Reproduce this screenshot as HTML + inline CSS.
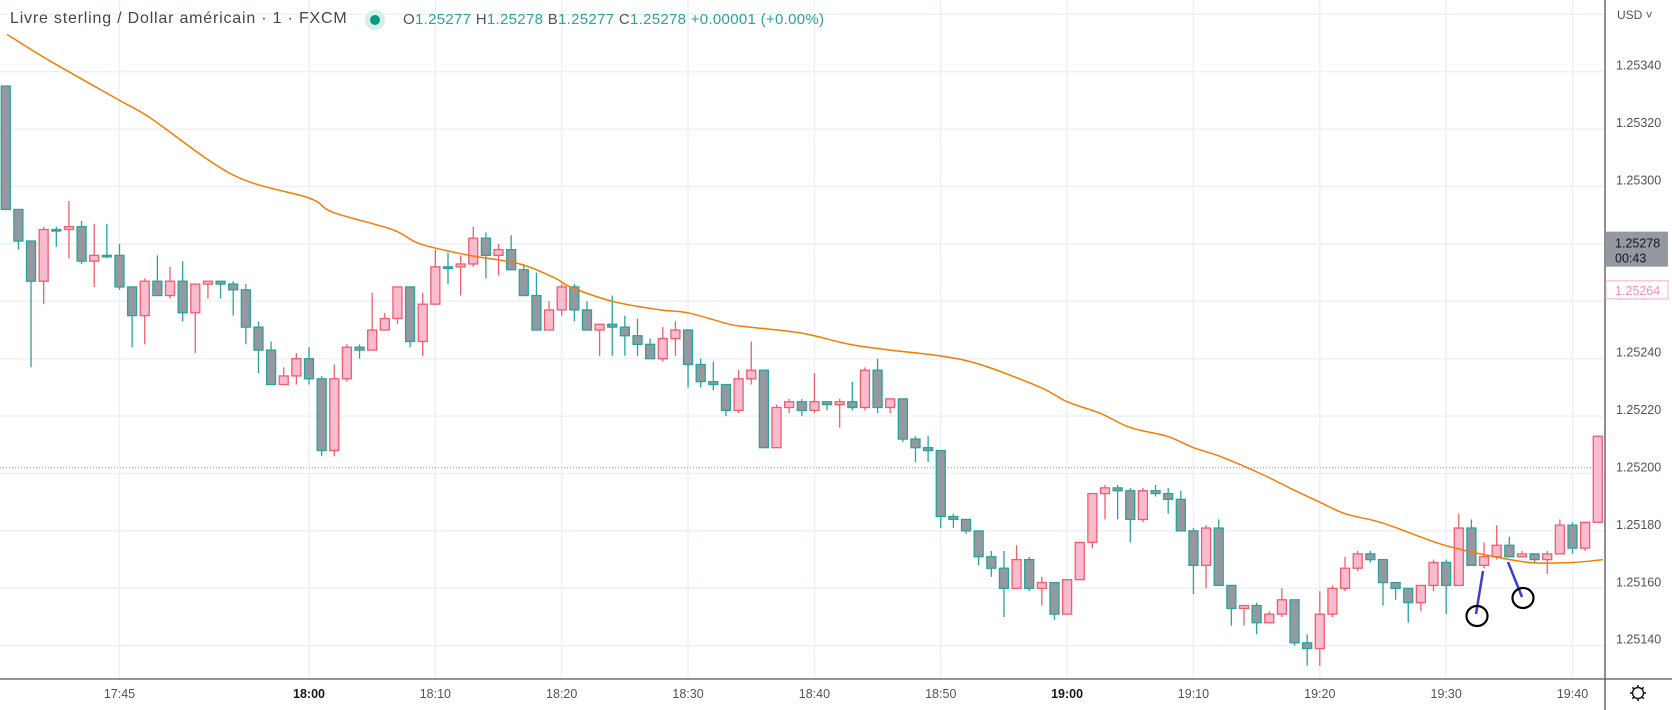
<!DOCTYPE html>
<html><head><meta charset="utf-8">
<style>
html,body{margin:0;padding:0;background:#fff;}
body{width:1672px;height:710px;overflow:hidden;position:relative;font-family:"Liberation Sans",sans-serif;}
.hd{position:absolute;white-space:nowrap;}
.v{color:#26a69a}
.l{color:#50535e}
</style></head><body>
<svg id="chart" width="1672" height="710" style="position:absolute;left:0;top:0">
<g id="grid"></g>
<g id="marks"></g>
<g id="ann"></g>
<g id="axes"></g>
</svg>
<div class="hd" style="left:10px;top:10px;font-size:16px;letter-spacing:0.8px;color:#434651">Livre sterling / Dollar américain · 1 · FXCM</div>
<div style="position:absolute;left:365px;top:10px;width:20px;height:20px;border-radius:50%;background:#d4efec"><div style="position:absolute;left:5px;top:5px;width:10px;height:10px;border-radius:50%;background:#089981"></div></div>
<div class="hd" style="left:403px;top:11px;font-size:15px;letter-spacing:0.3px"><span class="l">O</span><span class="v">1.25277</span> <span class="l">H</span><span class="v">1.25278</span> <span class="l">B</span><span class="v">1.25277</span> <span class="l">C</span><span class="v">1.25278</span> <span class="v">+0.00001 (+0.00%)</span></div>
<script>
const barTimes=[];for(let t=-24;t<=102;t++)barTimes.push(t); // minutes from 18:00
const opens=[335,292,281,267,285,285,286,274,276,276,265,255,267,262,267,256,266,267,266,264,251,243,231,234,240,233,208,233,244,243,250,254,265,246,259,272,272,273,282,276,278,271,262,250,257,265,257,250,252,251,248,245,240,247,250,238,232,231,222,233,236,209,223,225,222,225,224,225,223,236,223,226,212,209,208,185,184,180,171,167,160,170,160,162,151,163,176,193,195,194,184,194,193,191,180,168,181,161,153,154,148,151,156,141,139,151,160,167,172,170,162,160,155,161,169,161,181,168,171,175,171,172,170,172,182,174,183];
const highs=[335,292,281,286,286,295,288,287,287,280,265,268,276,272,274,266,267,267,267,266,253,246,237,242,244,234,238,245,245,263,256,265,265,263,278,277,276,286,284,280,283,273,270,260,266,266,260,252,262,255,254,247,251,253,250,240,239,231,236,246,236,224,226,226,235,225,226,232,237,240,226,226,213,213,208,186,184,180,173,173,175,171,164,162,163,176,193,196,196,195,195,196,195,194,181,182,184,161,154,155,152,160,156,144,159,161,171,173,173,170,162,160,161,170,170,186,184,176,182,178,173,172,173,184,183,183,213];
const lows=[292,278,237,259,279,275,273,265,275,264,244,245,262,261,253,242,261,261,255,245,235,231,231,231,231,206,206,232,240,243,250,252,244,241,259,266,262,272,268,269,271,262,250,250,255,253,250,241,241,241,241,240,239,241,230,230,229,220,221,231,209,209,221,220,221,222,216,222,222,221,221,211,204,204,181,181,179,168,164,150,160,159,154,149,151,163,174,184,184,176,183,192,186,180,158,160,161,147,147,144,148,150,140,133,133,150,159,166,169,154,156,148,152,159,151,161,168,167,170,171,171,169,165,172,172,173,183];
const closes=[292,281,267,285,285,286,274,276,276,265,255,267,262,267,256,266,267,266,264,251,243,231,234,240,233,208,233,244,243,250,254,265,246,259,272,272,273,282,276,278,271,262,250,257,265,257,250,252,251,248,245,240,247,250,238,232,231,222,233,236,209,223,225,222,225,224,225,223,236,223,226,212,209,208,185,184,180,171,167,160,170,160,162,151,163,176,193,195,194,184,194,193,191,180,168,181,161,153,154,148,151,156,141,139,151,160,167,172,170,162,160,155,161,169,161,181,168,171,175,171,172,170,172,182,174,183,213];
const smaTimes=[-23.9,-20.6,-15,-12.6,-6,0,1.9,6.6,8.8,12.7,16.7,19.5,20.7,24,27.8,30,33.3,34.9,38.9,42.8,46,49.9,53.1,57.9,60,62.6,65,67.9,70,72.1,75.3,77.6,80,82,84.8,87.9,89.9,92.7,96.6,100,102.4];
const smaValues=[1.25353,1.25344,1.2533,1.25324,1.25304,1.25296,1.25291,1.25285,1.2528,1.25276,1.25273,1.25268,1.25265,1.2526,1.25257,1.25256,1.25252,1.25251,1.25249,1.25245,1.25243,1.25241,1.25238,1.2523,1.25225,1.25221,1.25216,1.25213,1.25209,1.25206,1.252,1.25195,1.2519,1.25186,1.25183,1.25178,1.25175,1.25172,1.25169,1.25169,1.2517];
const priceTicks=[1.2536,1.2534,1.2532,1.2530,1.2528,1.2526,1.2524,1.2522,1.2520,1.2518,1.2516,1.2514];
const timeTicks=[-15,0,10,20,30,40,50,60,70,80,90,100];
const timeLabels=["17:45","18:00","18:10","18:20","18:30","18:40","18:50","19:00","19:10","19:20","19:30","19:40"];
const boldLabels=["18:00","19:00"];
const prevClose=1.25202, lastPrice=1.25278, smaLast=1.25264;

const NS="http://www.w3.org/2000/svg";
const pv=v=>1.25+v/100000;
const Y=p=>71.7+(1.2534-p)*287000;
const X=t=>309+12.635*t;
function mk(tag,attrs,parent){const e=document.createElementNS(NS,tag);for(const k in attrs)e.setAttribute(k,attrs[k]);parent.appendChild(e);return e;}
const grid=document.getElementById('grid'),marks=document.getElementById('marks'),ann=document.getElementById('ann'),axes=document.getElementById('axes');
const PW=1605;
priceTicks.forEach(p=>{const l=mk('line',{x1:0,x2:PW,y1:Y(p),y2:Y(p),stroke:'#edf0f5','stroke-width':1.5},grid);

});
timeTicks.forEach(t=>{const l=mk('line',{x1:X(t),x2:X(t),y1:0,y2:679,stroke:'#edf0f5','stroke-width':1.5},grid);

});
const pc=mk('line',{x1:0,x2:PW,y1:Y(prevClose),y2:Y(prevClose),stroke:'#9598a1','stroke-width':1,'stroke-dasharray':'1 2'},grid);


barTimes.forEach((t,i)=>{
  const o=pv(opens[i]),h=pv(highs[i]),lo=pv(lows[i]),c=pv(closes[i]);
  const bull=c>o, x=X(t);
  const edge=bull?'#ef5f6a':'#26a69a', fill=bull?'#f8bbd0':'#9598a1';
  const g=mk('g',{},marks);
  
  
  mk('line',{x1:x,x2:x,y1:Y(h),y2:Y(lo),stroke:edge,'stroke-width':1.3},g);
  const top=Y(Math.max(o,c)),bot=Y(Math.min(o,c));
  mk('rect',{x:x-4.5,y:top,width:9,height:Math.max(bot-top,1.5),fill:fill,stroke:edge,'stroke-width':1.3},g);
});
// smooth SMA via Catmull-Rom
const pts=smaTimes.map((t,i)=>[X(t),Y(smaValues[i])]);
let d='M'+pts[0][0].toFixed(1)+' '+pts[0][1].toFixed(1);
for(let i=0;i<pts.length-1;i++){const p0=pts[Math.max(i-1,0)],p1=pts[i],p2=pts[i+1],p3=pts[Math.min(i+2,pts.length-1)];
d+=' C'+(p1[0]+(p2[0]-p0[0])/6).toFixed(1)+' '+(p1[1]+(p2[1]-p0[1])/6).toFixed(1)+' '+(p2[0]-(p3[0]-p1[0])/6).toFixed(1)+' '+(p2[1]-(p3[1]-p1[1])/6).toFixed(1)+' '+p2[0].toFixed(1)+' '+p2[1].toFixed(1);}
const sma=mk('path',{d:d,fill:'none',stroke:'#f57c00','stroke-width':1.5},marks);


const a1=mk('line',{x1:1483,y1:571,x2:1476,y2:614,stroke:'#3a3fd0','stroke-width':2.5},ann);


const c1=mk('ellipse',{cx:1477,cy:616,rx:10.5,ry:10,fill:'none',stroke:'#000','stroke-width':2.2},ann);


const a2=mk('line',{x1:1508,y1:562,x2:1522,y2:597,stroke:'#3a3fd0','stroke-width':2.5},ann);


const c2=mk('ellipse',{cx:1523,cy:598,rx:10.5,ry:10,fill:'none',stroke:'#000','stroke-width':2.2},ann);


const pa=mk('rect',{x:PW,y:0,width:1672-PW,height:710,fill:'#fff'},axes);


const ta=mk('rect',{x:0,y:679,width:PW,height:31,fill:'#fff'},axes);


mk('line',{x1:PW,x2:PW,y1:0,y2:710,stroke:'#50535e','stroke-width':1.3},axes);
mk('line',{x1:0,x2:1672,y1:679,y2:679,stroke:'#50535e','stroke-width':1.3},axes);
priceTicks.slice(1).forEach(p=>{const tx=mk('text',{x:1616,y:Y(p)-2,'font-size':12.5,fill:'#50535e','font-family':'Liberation Sans, sans-serif'},axes);
tx.textContent=p.toFixed(5);

});
timeTicks.forEach((t,i)=>{const b=boldLabels.includes(timeLabels[i]);const tx=mk('text',{x:X(t),y:698,'text-anchor':'middle','font-size':12.5,'font-weight':b?'bold':'normal',fill:b?'#131722':'#50535e','font-family':'Liberation Sans, sans-serif'},axes);
tx.textContent=timeLabels[i];

});
const cur=mk('text',{x:1617,y:19,'font-size':12,fill:'#50535e','font-family':'Liberation Sans, sans-serif'},axes);
cur.textContent='USD ˅';


const sm=mk('g',{},axes);


mk('rect',{x:1606,y:Y(smaLast)-9,width:62,height:18,fill:'#fff',stroke:'#f8bbd0','stroke-width':1.2},sm);
const st=mk('text',{x:1615,y:Y(smaLast)+5,'font-size':12.5,fill:'#f48fb1','font-family':'Liberation Sans, sans-serif'},sm);st.textContent=smaLast.toFixed(5);
const lp=mk('g',{},axes);


mk('rect',{x:1606,y:Y(lastPrice)-18,width:62,height:35,fill:'#9598a1'},lp);
const l1=mk('text',{x:1615,y:Y(lastPrice)-2,'font-size':12.5,fill:'#131722','font-family':'Liberation Sans, sans-serif'},lp);l1.textContent=lastPrice.toFixed(5);
const l2=mk('text',{x:1615,y:Y(lastPrice)+13,'font-size':12.5,fill:'#131722','font-family':'Liberation Sans, sans-serif'},lp);l2.textContent='00:43';
const gear=mk('g',{transform:'translate(1638,693)'},axes);


mk('circle',{cx:0,cy:0,r:5.5,fill:'none',stroke:'#131722','stroke-width':1.4},gear);
for(let k=0;k<8;k++){const a=k*Math.PI/4;mk('line',{x1:5.5*Math.cos(a),y1:5.5*Math.sin(a),x2:8*Math.cos(a),y2:8*Math.sin(a),stroke:'#131722','stroke-width':1.6},gear);}
</script>
</body></html>
